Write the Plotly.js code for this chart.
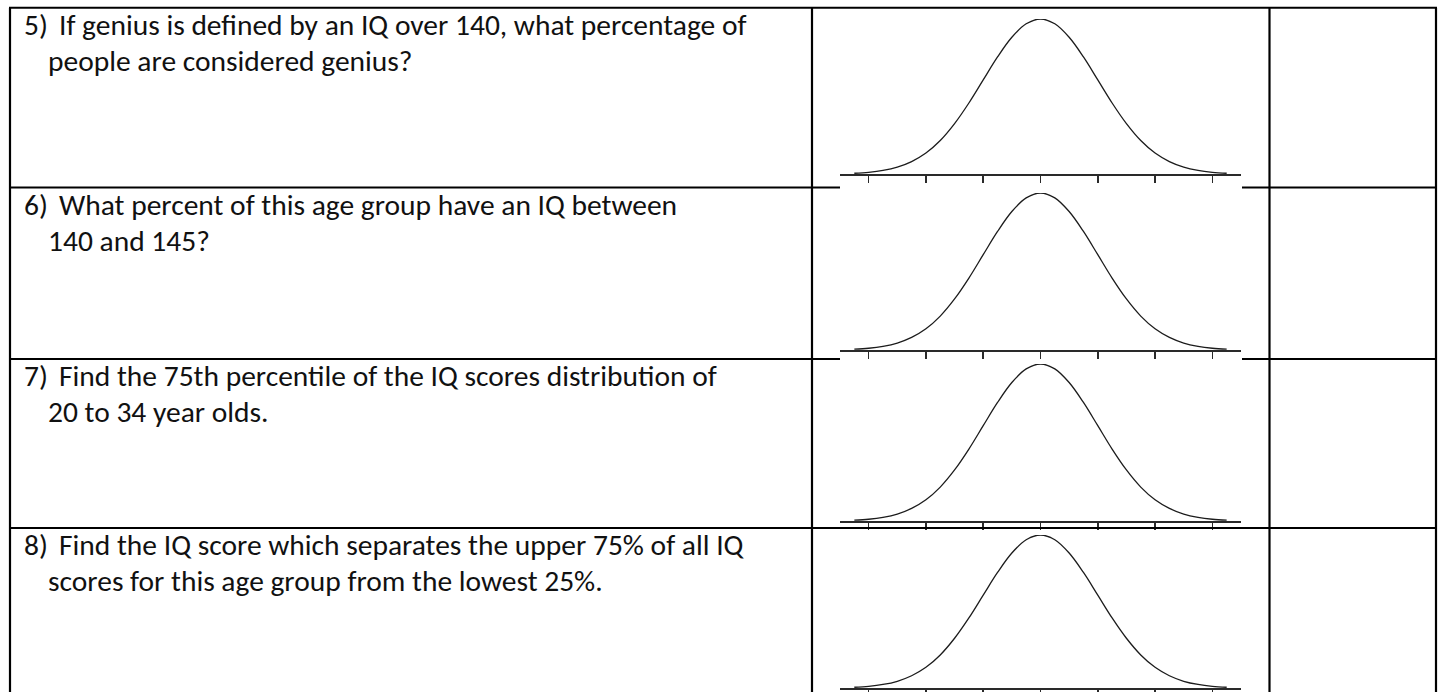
<!DOCTYPE html>
<html>
<head>
<meta charset="utf-8">
<script src="https://cdn.plot.ly/plotly-3.0.1.min.js"></script>
<style>html,body{margin:0;padding:0;background:#fff;}#chart{width:1442px;height:692px;}</style>
</head>
<body>
<div id="chart"></div>
<script>
// ---- data ----
const questionNumbers = ["5)", "6)", "7)", "8)"];
const firstLines = [
  "If genius is defined by an IQ over 140, what percentage of",
  "What percent of this age group have an IQ between",
  "Find the 75th percentile of the IQ scores distribution of",
  "Find the IQ score which separates the upper 75% of all IQ"
];
const secondLines = [
  "people are considered genius?",
  "140 and 145?",
  "20 to 34 year olds.",
  "scores for this age group from the lowest 25%."
];
// curve: positions in standard deviations from the mean, relative height of the bell
const curveZ = [-3.25,-3,-2.75,-2.5,-2.25,-2,-1.75,-1.5,-1.25,-1,-0.75,-0.5,-0.25,0,0.25,0.5,0.75,1,1.25,1.5,1.75,2,2.25,2.5,2.75,3,3.25];
const curveH = [0.005,0.011,0.023,0.044,0.080,0.135,0.216,0.325,0.458,0.607,0.755,0.882,0.969,1,0.969,0.882,0.755,0.607,0.458,0.325,0.216,0.135,0.080,0.044,0.023,0.011,0.005];
const tickZ = [-3,-2,-1,0,1,2,3];

// ---- layout geometry (pixels) ----
const W = 1442, H = 692;
const px = x => x / W, py = y => 1 - y / H;
const rowTops = [7.75, 187.5, 359, 528];
const baselines = [174, 350, 521, 688];
const peaks = [19, 193, 364, 535];
const plotLeft = 840, plotRight = 1241;
const colA = 10, colB = 812, colC = 1269.5, colD = 1436;

const data = [];
const layout = {
  width: W, height: H,
  margin: {l: 0, r: 0, t: 0, b: 0},
  paper_bgcolor: '#fff', plot_bgcolor: 'rgba(0,0,0,0)',
  showlegend: false,
  shapes: [], annotations: []
};

for (let i = 0; i < 4; i++) {
  const sfx = i === 0 ? '' : String(i + 1);
  data.push({
    type: 'scatter', mode: 'lines',
    x: curveZ, y: curveH,
    xaxis: 'x' + sfx, yaxis: 'y' + sfx,
    line: {color: '#1c1c1c', width: 1.3, shape: 'spline', smoothing: 1},
    hoverinfo: 'skip'
  });
  layout['xaxis' + sfx] = {
    domain: [px(plotLeft), px(plotRight)],
    range: [-3.5, 3.5], anchor: 'y' + sfx,
    showgrid: false, zeroline: false,
    showline: true, linecolor: '#2a2a2a', linewidth: 1.5,
    ticks: 'outside', ticklen: 7, tickwidth: 1.5, tickcolor: '#2a2a2a',
    tickvals: tickZ, showticklabels: false, fixedrange: true
  };
  layout['yaxis' + sfx] = {
    domain: [py(baselines[i]), py(peaks[i])],
    range: [0, 1], anchor: 'x' + sfx,
    visible: false, fixedrange: true
  };
}

// table borders
const lw = 2.2;
function line(x0, y0, x1, y1) {
  layout.shapes.push({type: 'line', xref: 'paper', yref: 'paper',
    x0: px(x0), y0: py(y0), x1: px(x1), y1: py(y1),
    line: {color: '#000', width: lw}});
}
line(colA - 1, rowTops[0], colD + 1, rowTops[0]);
[colA, colB, colC, colD].forEach(x => line(x, rowTops[0], x, H + 2));
// separators in rows 1 and 2 are covered by the pasted curve picture
line(colA, rowTops[1], plotLeft, rowTops[1]);
line(plotRight + 1, rowTops[1], colD, rowTops[1]);
line(colA, rowTops[2], plotLeft, rowTops[2]);
line(plotRight + 1, rowTops[2], colD, rowTops[2]);
line(colA, rowTops[3], colD, rowTops[3]);

// question text
const fontFam = 'Carlito, Calibri, Lato, sans-serif';
const fs = 29.5;
for (let i = 0; i < 4; i++) {
  const c1 = rowTops[i] + 17, c2 = rowTops[i] + 53;
  const common = {xref: 'paper', yref: 'paper', xanchor: 'left', yanchor: 'middle',
    showarrow: false, font: {family: fontFam, size: fs, color: '#111'}};
  layout.annotations.push(Object.assign({}, common, {
    x: px(22), y: py(c1), text: questionNumbers[i]}));
  layout.annotations.push(Object.assign({}, common, {
    x: px(57), y: py(c1), text: firstLines[i]}));
  layout.annotations.push(Object.assign({}, common, {
    x: px(46), y: py(c2), text: secondLines[i]}));
}

Plotly.newPlot('chart', data, layout, {staticPlot: true, displayModeBar: false});
</script>
</body>
</html>
